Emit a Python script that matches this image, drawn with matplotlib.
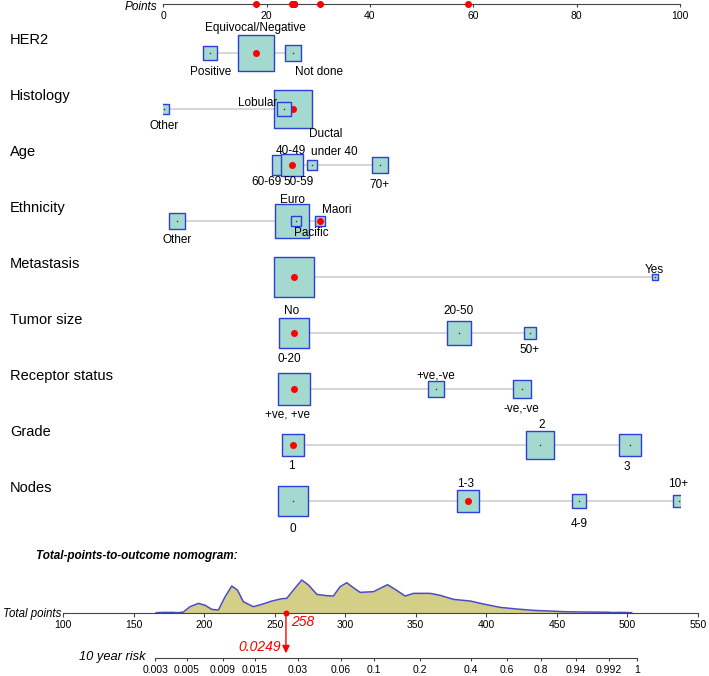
import numpy as np
import matplotlib
matplotlib.use('Agg')
import matplotlib.pyplot as plt
import matplotlib.transforms as mtransforms
from matplotlib.patches import ConnectionPatch

plt.rcParams['font.family'] = ['Liberation Sans', 'DejaVu Sans']

# --- nomogram rows: points for each level and share of patients (box area) ---
variables = ['HER2', 'Histology', 'Age', 'Ethnicity', 'Metastasis', 'Tumor size',
             'Receptor status', 'Grade', 'Nodes']

her2_levels = ['Equivocal/Negative', 'Positive', 'Not done']
her2_points = [17.9, 9.1, 25.1]
her2_share = [0.77, 0.12, 0.18]

hist_levels = ['Ductal', 'Lobular', 'Other']
hist_points = [25.1, 23.3, 0.1]
hist_share = [0.86, 0.12, 0.06]

age_levels = ['40-49', '60-69', '50-59', 'under 40', '70+']
age_points = [24.7, 23.0, 25.0, 28.8, 41.9]
age_share = [0.24, 0.24, 0.28, 0.06, 0.16]

eth_levels = ['Euro', 'Pacific', 'Maori', 'Other']
eth_points = [25.0, 25.6, 30.3, 2.7]
eth_share = [0.72, 0.06, 0.06, 0.16]

meta_levels = ['No', 'Yes']
meta_points = [25.2, 95.1]
meta_share = [1.0, 0.02]

size_levels = ['0-20', '20-50', '50+']
size_points = [25.3, 57.2, 70.9]
size_share = [0.56, 0.39, 0.076]

rec_levels = ['+ve, +ve', '+ve,-ve', '-ve,-ve']
rec_points = [25.2, 52.7, 69.4]
rec_share = [0.64, 0.16, 0.20]

grade_levels = ['1', '2', '3']
grade_points = [25.1, 73.0, 90.3]
grade_share = [0.28, 0.46, 0.33]

nodes_levels = ['0', '1-3', '4-9', '10+']
nodes_points = [25.1, 58.9, 80.4, 99.8]
nodes_share = [0.53, 0.30, 0.11, 0.09]

# the example patient (red dots)
patient = ['Equivocal/Negative', 'Ductal', '50-59', 'Maori', 'No', '0-20',
           '+ve, +ve', '1', '1-3']

# distribution of total points in the cohort
dens_points = [166, 171, 178, 182, 185.3, 190.0, 196.0, 200.8, 205.4, 210.1, 214.9,
               219.6, 223.6, 227.8, 234.9, 240.9, 248.0, 255.1, 258.6, 263.3, 269.2,
               274.0, 279.9, 287.0, 291.6, 296.4, 301.1, 305.8, 310.6, 320.0, 324.7,
               330.0, 335.4, 342.5, 348.4, 360.2, 367.3, 376.7, 388.6, 398.0, 409.8,
               421.6, 433.4, 445.2, 455, 470, 485, 490, 495, 500, 503]
dens_height = [0, 1, 1, 0, 2, 18, 28, 22, 10, 8, 48,
               80, 68, 33, 18, 25, 35, 42, 43, 68, 98,
               83, 55, 51, 50, 78, 90, 75, 61, 63, 73,
               84, 70, 50, 58, 58, 52, 40, 35, 26, 16,
               11, 7, 5, 3, 2, 1.5, 0.5, 1, 0.5, 0]

# total points -> 10 year risk (complementary log-log scale)
total_score = 258
risk_at_score = 0.0249
cloglog_per_point = 0.02297
risk_ticks = [0.003, 0.005, 0.009, 0.015, 0.03, 0.06, 0.1, 0.2, 0.4, 0.6, 0.8,
              0.94, 0.992, 0.99955]
risk_labels = ['0.003', '0.005', '0.009', '0.015', '0.03', '0.06', '0.1', '0.2',
               '0.4', '0.6', '0.8', '0.94', '0.992', '1']

rows = [(her2_levels, her2_points, her2_share),
        (hist_levels, hist_points, hist_share),
        (age_levels, age_points, age_share),
        (eth_levels, eth_points, eth_share),
        (meta_levels, meta_points, meta_share),
        (size_levels, size_points, size_share),
        (rec_levels, rec_points, rec_share),
        (grade_levels, grade_points, grade_share),
        (nodes_levels, nodes_points, nodes_share)]

# label placement: (dx, dy) in pixels from the box centre, horizontal alignment
label_pos = [
    [(0, -25.5, 'center'), (0, 18.5, 'center'), (2, 19, 'left')],
    [(16, 24.5, 'left'), (-6.5, -6, 'right'), (0, 17, 'center')],
    [(0, -14, 'center'), (-1, 16.5, 'right'), (-8.7, 16.5, 'left'), (-1.5, -13.5, 'left'), (0, 19.5, 'center')],
    [(0, -21, 'center'), (-1.5, 11.5, 'left'), (1.7, -11, 'left'), (0, 19, 'center')],
    [(-1.5, 33.5, 'center'), (0, -7, 'center')],
    [(-4.5, 25.5, 'center'), (0, -22, 'center'), (0, 17, 'center')],
    [(-6.5, 25.5, 'center'), (0, -14, 'center'), (-1, 19.5, 'center')],
    [(-2, 21, 'center'), (1, -20, 'center'), (-3, 22, 'center')],
    [(0, 27.5, 'center'), (-2.3, -17.5, 'center'), (0, 22.5, 'center'), (-1.3, -17.5, 'center')],
]

W, H = 709, 676
PT = 0.72  # points per pixel at dpi 100
BOX_FILL = '#a3d9cf'
BOX_EDGE = '#2d3fd8'


def fx(px):
    return px / W


def fy(py):
    return 1 - py / H


def risk_pos(p):
    p = np.asarray(p)
    return total_score + (np.log(-np.log(1 - p)) - np.log(-np.log(1 - risk_at_score))) / cloglog_per_point


fig = plt.figure(figsize=(W / 100, H / 100), dpi=100)

# main panel: x = points, y = row index (row centres 56 px apart)
ax = fig.add_axes([fx(163.3), fy(540), fx(680) - fx(163.3), 540 / H])
ax.set_xlim(0, 100)
ax.set_ylim((540 - 53.5) / 56, -53.5 / 56)
ax.axis('off')

trans = mtransforms.blended_transform_factory(fig.transFigure, ax.transData)

selected_points = []
for i, (levels, points, share) in enumerate(rows):
    ax.text(fx(10), i - 13.5 / 56, variables[i], transform=trans, fontsize=10.5,
            va='center', ha='left')
    ax.plot([min(points), max(points)], [i, i], color='#cccccc', lw=1.1, zorder=1)
    for j, (lev, pt, sh) in enumerate(zip(levels, points, share)):
        side = 40 * np.sqrt(sh) * PT
        ax.scatter(pt, i, marker='s', s=side ** 2, facecolor=BOX_FILL,
                   edgecolor=BOX_EDGE, linewidths=1.0, zorder=2 + j * 0.1)
        if lev == patient[i]:
            ax.scatter(pt, i, s=(7 * PT) ** 2, color='red', lw=0, zorder=2.05 + j * 0.1)
            selected_points.append(pt)
        else:
            ax.scatter(pt, i, s=1.2, color='#333333', lw=0, zorder=2.05 + j * 0.1)
        dx, dy, ha = label_pos[i][j]
        ax.annotate(lev, xy=(pt, i), xytext=(dx * PT, -dy * PT), textcoords='offset points',
                    ha=ha, va='center', fontsize=8.5, annotation_clip=False, zorder=6)

# points scale at the top
ax_pts = fig.add_axes([fx(163.3), fy(4), fx(680) - fx(163.3), 0.0001])
ax_pts.set_xlim(0, 100)
ax_pts.set_ylim(0, 1)
for s in ['top', 'left', 'right']:
    ax_pts.spines[s].set_visible(False)
ax_pts.spines['bottom'].set_color('#444444')
ax_pts.set_xticks(np.arange(0, 101, 20))
ax_pts.set_yticks([])
ax_pts.tick_params(axis='x', direction='out', length=2.5, width=0.8, colors='#444444',
                   labelcolor='black', labelsize=7.5, pad=2.5)
ax_pts.scatter(selected_points, np.zeros(len(selected_points)), s=(7 * PT) ** 2,
               color='red', lw=0, clip_on=False, zorder=5)
ax_pts.annotate('Points', xy=(0, 0), xytext=(-4, -2), textcoords='offset points',
                ha='right', va='center', fontsize=8.5, fontstyle='italic',
                annotation_clip=False)

# total points with the cohort distribution
fig.text(fx(36), fy(556), 'Total-points-to-outcome nomogram:', fontsize=8.5,
         fontweight='bold', fontstyle='italic', va='center')

ax_dens = fig.add_axes([fx(63), fy(612.7), fx(698) - fx(63), 45 / H])
ax_dens.set_xlim(100, 550)
ax_dens.set_ylim(0, 135)
for s in ['top', 'left', 'right']:
    ax_dens.spines[s].set_visible(False)
ax_dens.spines['bottom'].set_color('#444444')
ax_dens.set_xticks(np.arange(100, 551, 50))
ax_dens.set_yticks([])
ax_dens.tick_params(axis='x', direction='out', length=3, width=0.8, colors='#444444',
                    labelcolor='black', labelsize=7.5, pad=2)
ax_dens.fill_between(dens_points, dens_height, color='#d3cf86', lw=0)
ax_dens.plot(dens_points, dens_height, color='#4b4bc4', lw=1.1)
ax_dens.annotate('Total points', xy=(100, 0), xytext=(-1, -1), textcoords='offset points',
                 ha='right', va='center', fontsize=8.3, fontstyle='italic',
                 annotation_clip=False)
ax_dens.scatter([total_score], [0], s=(6 * PT) ** 2, color='red', lw=0,
                clip_on=False, zorder=5)
ax_dens.annotate(str(total_score), xy=(total_score, 0), xytext=(5 * PT, -9 * PT),
                 textcoords='offset points', ha='left', va='center', fontsize=10,
                 fontstyle='italic', color='red', annotation_clip=False)

# 10 year risk scale
ax_risk = fig.add_axes([fx(63), fy(658.3), fx(698) - fx(63), 0.0001])
ax_risk.set_xlim(100, 550)
ax_risk.set_ylim(0, 1)
for s in ['top', 'left', 'right']:
    ax_risk.spines[s].set_visible(False)
ax_risk.spines['bottom'].set_color('#444444')
ax_risk.spines['bottom'].set_bounds(risk_pos(risk_ticks[0]), risk_pos(risk_ticks[-1]))
ax_risk.set_xticks(risk_pos(risk_ticks))
ax_risk.set_xticklabels(risk_labels)
ax_risk.set_yticks([])
ax_risk.tick_params(axis='x', direction='out', length=2.5, width=0.8, colors='#444444',
                    labelcolor='black', labelsize=7.5, pad=2)
ax_risk.annotate('10 year risk', xy=(risk_pos(risk_ticks[0]), 0), xytext=(-10 * PT, 1 * PT),
                 textcoords='offset points', ha='right', va='center', fontsize=9.3,
                 fontstyle='italic', annotation_clip=False)
ax_risk.annotate(str(risk_at_score), xy=(total_score, 0), xytext=(-5 * PT, 11 * PT),
                 textcoords='offset points', ha='right', va='center', fontsize=10,
                 fontstyle='italic', color='red', annotation_clip=False)

arrow = ConnectionPatch(xyA=(total_score, 0), coordsA='data', axesA=ax_dens,
                        xyB=(total_score, 0), coordsB='data', axesB=ax_risk,
                        arrowstyle='-|>,head_length=0.45,head_width=0.22',
                        color='red', lw=1.0, shrinkA=0, shrinkB=5 * PT, mutation_scale=10)
fig.add_artist(arrow)

fig.savefig('out.png', dpi=100)
